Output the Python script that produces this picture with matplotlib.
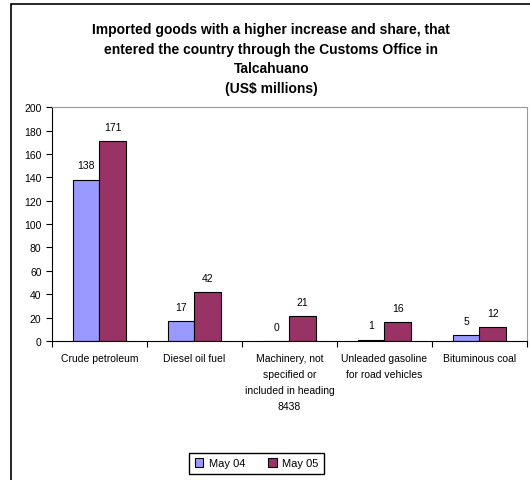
import numpy as np
import matplotlib.pyplot as plt
from matplotlib.patches import Rectangle

# Data
categories = ['Crude petroleum', 'Diesel oil fuel',
              'Machinery, not\nspecified or\nincluded in heading\n8438',
              'Unleaded gasoline\nfor road vehicles', 'Bituminous coal']
may04 = [138, 17, 0, 1, 5]
may05 = [171, 42, 21, 16, 12]

plt.rcParams['font.family'] = ['Liberation Sans', 'DejaVu Sans']

fig = plt.figure(figsize=(5.3, 4.81), dpi=100)
ax = fig.add_axes([0.098, 0.289, 0.896, 0.486])

x = np.arange(len(categories))
w = 0.28
b1 = ax.bar(x - w / 2, may04, w, color='#9999FF', edgecolor='black', linewidth=0.8, label='May 04')
b2 = ax.bar(x + w / 2, may05, w, color='#993366', edgecolor='black', linewidth=0.8, label='May 05')

# value labels above the bars
for bars in (b1, b2):
    for r in bars:
        ax.text(r.get_x() + r.get_width() / 2, r.get_height() + 8, str(int(r.get_height())),
                ha='center', va='bottom', fontsize=7.5)

ax.set_xlim(-0.5, len(categories) - 0.5)
ax.set_ylim(0, 200)
ax.set_yticks(range(0, 201, 20))
ax.set_xticks(x)
ax.set_xticklabels(categories, fontsize=7.5, linespacing=1.75)
ax.set_xticks(np.arange(-0.5, len(categories)), minor=True)
ax.tick_params(axis='x', which='major', length=0, pad=9)
ax.tick_params(axis='x', which='minor', length=4, width=0.8, direction='out')
ax.tick_params(axis='y', labelsize=7.5, length=4, width=0.8, direction='out')

for s in ('top', 'right'):
    ax.spines[s].set_color('#999999')
    ax.spines[s].set_linewidth(0.8)
for s in ('left', 'bottom'):
    ax.spines[s].set_linewidth(0.8)

fig.text(0.512, 0.952, 'Imported goods with a higher increase and share, that\n'
         'entered the country through the Customs Office in\nTalcahuano\n(US$ millions)',
         ha='center', va='top', fontsize=10, fontweight='bold', linespacing=1.5)

fig.legend(loc='center', bbox_to_anchor=(0.484, 0.035), ncol=2, fontsize=8,
           frameon=True, fancybox=False, edgecolor='black', framealpha=1,
           handlelength=0.8, handleheight=0.8, handletextpad=0.5,
           columnspacing=2.0, borderpad=0.5)

# outer chart frame (runs off the right and bottom edges)
fig.patches.append(Rectangle((11 / 530, -0.1), 1.2, 1 - 5 / 481 + 0.1,
                             transform=fig.transFigure, fill=False,
                             edgecolor='black', linewidth=1.2))

fig.savefig('out.png', dpi=100)
